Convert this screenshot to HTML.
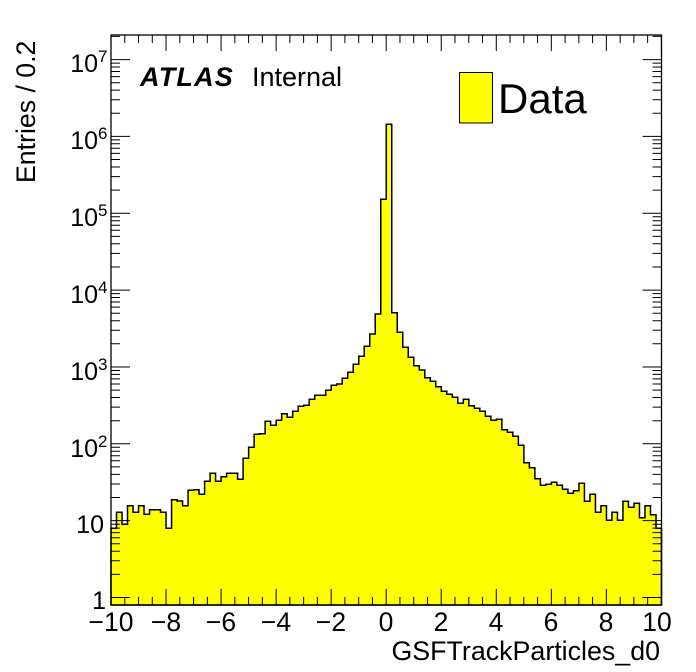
<!DOCTYPE html>
<html><head><meta charset="utf-8"><style>
html,body{margin:0;padding:0;background:#fff;}
svg{display:block;font-family:"Liberation Sans",Arial,sans-serif;}
</style></head><body>
<svg id="s" width="696" height="672" viewBox="0 0 696 672" xmlns="http://www.w3.org/2000/svg">
<g id="hist"></g>
<g id="ticks" stroke="#000" stroke-width="1"></g>
<rect x="111" y="35" width="550.5" height="570" fill="none" stroke="#000" stroke-width="1.3"/>
<g font-size="25" fill="#000">
<text x="98" y="72" text-anchor="end">10</text><text x="98" y="62" font-size="17">7</text>
<text x="98" y="149" text-anchor="end">10</text><text x="98" y="139" font-size="17">6</text>
<text x="98" y="226" text-anchor="end">10</text><text x="98" y="216" font-size="17">5</text>
<text x="98" y="303" text-anchor="end">10</text><text x="98" y="293" font-size="17">4</text>
<text x="98" y="380" text-anchor="end">10</text><text x="98" y="370" font-size="17">3</text>
<text x="98" y="457" text-anchor="end">10</text><text x="98" y="447" font-size="17">2</text>
<text x="104" y="533" text-anchor="end">10</text>
<text x="106" y="609" text-anchor="end">1</text>
</g>
<g font-size="26.5" text-anchor="middle">
<text x="111" y="631">−10</text><text x="166" y="631">−8</text><text x="221" y="631">−6</text>
<text x="276" y="631">−4</text><text x="331" y="631">−2</text><text x="386" y="631">0</text>
<text x="441" y="631">2</text><text x="496" y="631">4</text><text x="551" y="631">6</text>
<text x="606" y="631">8</text><text x="657" y="631">10</text>
</g>
<text x="660" y="660" font-size="26.8" text-anchor="end">GSFTrackParticles_d0</text>
<text transform="translate(35,183) rotate(-90)" font-size="26.7">Entries / 0.2</text>
<text x="140" y="86" font-size="27" font-weight="bold" font-style="italic" letter-spacing="1.2">ATLAS</text>
<text x="252" y="86" font-size="27">Internal</text>
<rect x="459.5" y="72.5" width="33" height="50.5" fill="#ff0" stroke="#000" stroke-width="1"/>
<text x="498" y="113" font-size="42">Data</text>
</svg>
<script>
var ys=[528.3,512.3,524.3,505.7,512.3,505.7,514.3,509.7,509.7,512.3,528.3,499.7,501,505.7,490.3,489.7,494.3,481.3,473.3,481.3,476.7,473.3,473.3,479.3,458.3,447.3,434.3,433.7,421.3,425.3,420.3,413.7,417.3,411.3,406.3,405.3,399.3,395.3,395.3,390.3,385.3,384,378.3,372.3,364.3,356.3,346.3,334,314,199.3,124.3,312.7,332.3,347.3,357.3,365.7,370,377.7,381.3,386.7,391.3,394.3,397.3,403.3,399.3,405.7,408.3,411.3,416.3,420.3,419.3,429.7,432.3,436.3,445.3,462.7,467.7,478.7,485.3,484.3,482.3,485.3,489.3,493.3,490.7,483.3,501.3,494.3,512.3,505.7,520.3,512.3,520.3,501.3,507.3,503.3,517.7,505.7,514.7,528.3];
var x0=111,w=5.505,B=605;
var d="M"+x0+","+B;
for(var i=0;i<100;i++){d+=" L"+(x0+i*w).toFixed(2)+","+ys[i]+" L"+(x0+(i+1)*w).toFixed(2)+","+ys[i];}
d+=" L"+(x0+100*w).toFixed(2)+","+B+" Z";
var ns="http://www.w3.org/2000/svg";
var p=document.createElementNS(ns,"path");p.setAttribute("d",d);p.setAttribute("fill","#ff0");p.setAttribute("stroke","#000");p.setAttribute("stroke-width","1.5");
document.getElementById("hist").appendChild(p);
var t="";
for(var k=0;k<=40;k++){var x=111+k*13.76;var L=(k%4==0)?16:8;t+="M"+x+",605 v-"+L+" M"+x+",35 v"+L+" ";}
function Y(v){return 597.5-76.85*Math.log10(v);}
for(var e=0;e<8;e++){for(var m=1;m<10;m++){var v=m*Math.pow(10,e);var y=Y(v);if(y<35||y>605)continue;var L=(m==1)?19:9;t+="M111,"+y.toFixed(1)+" h"+L+" M661.5,"+y.toFixed(1)+" h-"+L+" ";}}
var q=document.createElementNS(ns,"path");q.setAttribute("d",t);q.setAttribute("stroke","#000");q.setAttribute("fill","none");
document.getElementById("ticks").appendChild(q);
</script>
</body></html>
